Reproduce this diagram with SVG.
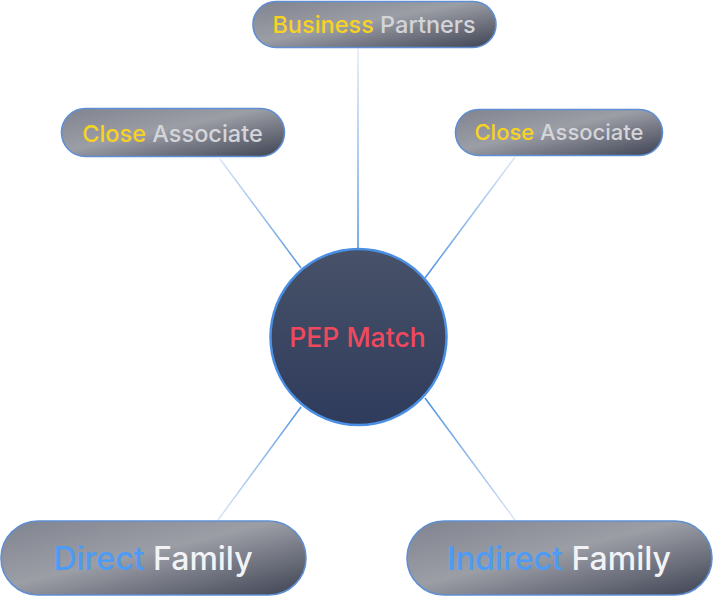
<svg xmlns="http://www.w3.org/2000/svg" width="713" height="596" viewBox="0 0 713 596">
<defs>
<linearGradient id="pill" x1="0" y1="0" x2="1" y2="1" gradientUnits="objectBoundingBox">
<stop offset="0" stop-color="#80848f"/>
<stop offset="0.45" stop-color="#9c9ea6"/>
<stop offset="1" stop-color="#3e4353"/>
</linearGradient>
<linearGradient id="circ" x1="0" y1="0" x2="0" y2="1">
<stop offset="0" stop-color="#485269"/>
<stop offset="1" stop-color="#2e3b5b"/>
</linearGradient>
<linearGradient id="lv" gradientUnits="userSpaceOnUse" x1="358" y1="48" x2="358" y2="249"><stop offset="0" stop-color="#e3ebf6"/><stop offset="1" stop-color="#4a90e2"/></linearGradient>
<linearGradient id="lt" gradientUnits="userSpaceOnUse" x1="0" y1="158" x2="0" y2="278"><stop offset="0" stop-color="#dbe6f5"/><stop offset="1" stop-color="#4a90e2"/></linearGradient>
<linearGradient id="lb" gradientUnits="userSpaceOnUse" x1="0" y1="398" x2="0" y2="520"><stop offset="0" stop-color="#4a90e2"/><stop offset="1" stop-color="#dbe6f5"/></linearGradient>
<style>
.p{fill:url(#pill);stroke:#5f8fd2;stroke-width:1.6}
.t{font-family:Inter,"Liberation Sans",sans-serif;font-weight:500;text-anchor:middle}
.y{fill:#f7d31f}.g{fill:#d4d5da}.w{fill:#f1f3f6}.b{fill:#4c9bf6}
.c{stroke-width:1.5;fill:none}
</style>
</defs>
<g id="connectors">
<path class="c" d="M358 48 L358 249" stroke="url(#lv)"/>
<path class="c" d="M220 159 L301 268" stroke="url(#lt)"/>
<path class="c" d="M515 157 L425 278" stroke="url(#lt)"/>
<path class="c" d="M301 407 L218 520" stroke="url(#lb)"/>
<path class="c" d="M425 398 L515 520" stroke="url(#lb)"/>
</g>
<g id="business-partners">
<rect class="p" x="253" y="1.5" width="243" height="46" rx="23"/>
<text class="t" x="374" y="33" font-size="23.5"><tspan class="y">Business</tspan><tspan class="g"> Partners</tspan></text>
</g>
<g id="close-associate-left">
<rect class="p" x="61.5" y="108.5" width="223" height="48" rx="24"/>
<text class="t" x="172.5" y="141.5" font-size="23.5"><tspan class="y">Close</tspan><tspan class="g"> Associate</tspan></text>
</g>
<g id="close-associate-right">
<rect class="p" x="455.5" y="109.5" width="207" height="46" rx="23"/>
<text class="t" x="559" y="140" font-size="22"><tspan class="y">Close</tspan><tspan class="g"> Associate</tspan></text>
</g>
<g id="pep-match">
<circle cx="358.5" cy="337" r="88" fill="url(#circ)" stroke="#4a8fe3" stroke-width="2.5"/>
<text class="t" x="357.5" y="346.5" font-size="26.5" fill="#f0495e">PEP Match</text>
</g>
<g id="direct-family">
<rect class="p" x="1" y="521" width="305" height="74" rx="37"/>
<text class="t" x="153" y="570" font-size="32"><tspan class="b">Direct</tspan><tspan class="w"> Family</tspan></text>
</g>
<g id="indirect-family">
<rect class="p" x="407" y="521" width="305" height="74" rx="37"/>
<text class="t" x="559" y="570" font-size="32"><tspan class="b">Indirect</tspan><tspan class="w"> Family</tspan></text>
</g>
</svg>
